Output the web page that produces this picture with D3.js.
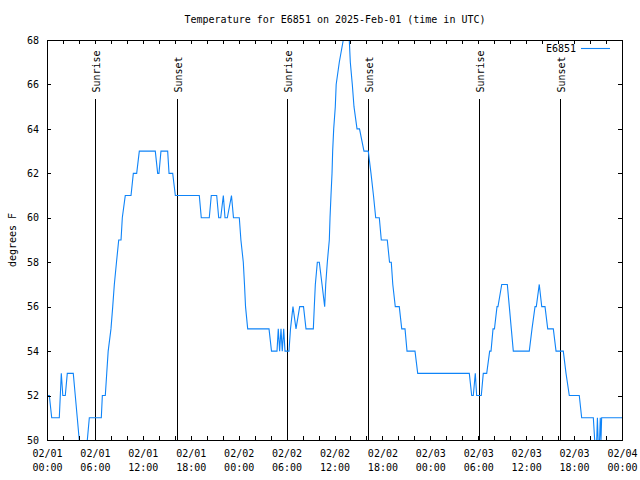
<!DOCTYPE html>
<html><head><meta charset="utf-8">
<script src="https://cdn.jsdelivr.net/npm/d3@7"></script>
<style>
html,body{margin:0;padding:0;background:#fff;}
svg{display:block;}
text{font-family:"DejaVu Sans Mono","Liberation Mono",monospace;font-size:10px;fill:#000;}
</style></head>
<body>
<svg id="chart" width="640" height="480"></svg>
<script>
// ---- data ----
const title = "Temperature for E6851 on 2025-Feb-01 (time in UTC)";
const seriesName = "E6851";
const yLabel = "degrees F";
// hours since 2025-02-01 00:00 UTC
const hrs = [0.00,0.29,0.59,1.54,1.79,1.98,2.29,2.54,3.29,3.54,3.79,4.04,4.29,4.80,5.05,5.30,6.80,6.93,7.30,7.48,7.66,8.01,8.23,8.43,8.70,8.98,9.27,9.43,9.80,10.52,10.81,11.23,11.56,13.56,13.86,14.02,14.27,15.11,15.28,15.74,16.07,19.07,19.32,20.32,20.57,21.25,21.50,21.75,22.08,22.29,22.58,23.10,23.35,24.08,24.28,24.58,24.73,24.86,25.13,27.80,28.11,28.80,28.96,29.13,29.30,29.46,29.64,29.80,30.30,30.49,30.80,31.18,31.64,32.12,32.43,33.35,33.47,33.60,33.85,34.10,34.44,34.77,34.90,35.10,35.35,35.44,35.56,35.69,35.77,35.90,36.10,36.21,36.60,37.10,37.32,37.69,37.85,37.98,38.23,38.44,38.82,39.13,39.69,40.23,40.57,40.88,41.16,41.61,41.86,42.61,42.89,43.11,43.30,43.61,44.11,44.42,44.83,45.08,46.08,46.42,52.88,53.18,53.38,53.63,53.80,54.38,54.63,55.06,55.43,55.60,55.85,56.03,56.35,56.47,56.94,57.64,57.89,58.14,58.39,60.39,60.73,61.11,61.27,61.64,61.95,62.36,62.70,63.40,63.74,64.65,64.99,65.40,66.65,66.95,68.41,68.75,68.92,69.10,69.28,69.37,69.45,72.00];
const temps = [52,52,51,51,53,52,52,53,53,52,51,50,49,49,50,51,51,52,52,53,54,55,56,57,58,59,59,60,61,61,62,62,63,63,62,62,63,63,62,62,61,61,60,60,61,61,60,60,61,60,60,61,60,60,59,58,57,56,55,55,54,54,55,54,55,54,55,54,54,55,56,55,56,56,55,55,56,57,58,58,57,56,57,58,59,60,61,62,63,64,65,66,67,68,69,69,68,67,66,65,64,64,63,63,62,61,60,60,59,59,58,58,57,56,56,55,55,54,54,53,53,52,52,53,52,52,53,53,54,54,55,55,56,56,57,57,56,55,54,54,55,56,56,57,56,56,55,55,54,54,53,52,52,51,51,49,51,49,51,50,51,51];
const sunEvents = ["2025-02-01T06:04Z","2025-02-01T16:13Z","2025-02-02T06:04Z","2025-02-02T16:14Z","2025-02-03T06:03Z","2025-02-03T16:14Z"];
const sunLabels = ["Sunrise","Sunset","Sunrise","Sunset","Sunrise","Sunset"];
const yTicks = [50,52,54,56,58,60,62,64,66,68];
const xStart = "2025-02-01T00:00Z", xEnd = "2025-02-04T00:00Z";

// ---- layout ----
const L = 47, R = 622, T = 40, B = 440;
const svg = d3.select("#chart");
const t0 = new Date(xStart);
const x = d3.scaleUtc().domain([t0, new Date(xEnd)]).range([L, R]);
const y = d3.scaleLinear().domain([50, 68]).range([B, T]);
const data = hrs.map((h, i) => ({t: new Date(t0.getTime() + h * 3600e3), v: temps[i]}));

// title
svg.append("text").attr("x", 335).attr("y", 23).attr("text-anchor", "middle").text(title);

// y label
svg.append("text").attr("transform", "translate(16,240) rotate(-90)").attr("text-anchor", "middle").text(yLabel);

// clip
svg.append("clipPath").attr("id", "clip").append("rect").attr("x", L).attr("y", T).attr("width", R - L).attr("height", B - T);

// sunrise/sunset
const sun = svg.append("g");
sunEvents.forEach((s, i) => {
  const xx = Math.round(x(new Date(s))) + 0.5;
  sun.append("line").attr("x1", xx).attr("x2", xx).attr("y1", 99).attr("y2", B).attr("stroke", "#000").attr("stroke-width", 1);
  sun.append("text").attr("transform", `translate(${xx + 4},92.5) rotate(-90)`).attr("text-anchor", "start").text(sunLabels[i]);
});

// data line
svg.append("path").datum(data).attr("clip-path", "url(#clip)")
  .attr("fill", "none").attr("stroke", "#0f84f8").attr("stroke-width", 1.1)
  .attr("d", d3.line().x(d => x(d.t)).y(d => y(d.v)));

// axes (ticks inward)
const gB = svg.append("g").attr("transform", `translate(0,${B})`)
  .call(d3.axisBottom(x).ticks(d3.utcHour.every(2)).tickSize(-4).tickSizeOuter(0).tickFormat(""));
const gT = svg.append("g").attr("transform", `translate(0,${T})`)
  .call(d3.axisTop(x).ticks(d3.utcHour.every(2)).tickSize(-4).tickSizeOuter(0).tickFormat(""));
const gL = svg.append("g").attr("transform", `translate(${L},0)`)
  .call(d3.axisLeft(y).tickValues(yTicks).tickSize(-4).tickSizeOuter(0).tickPadding(8).tickFormat(d3.format("d")));
const gR = svg.append("g").attr("transform", `translate(${R},0)`)
  .call(d3.axisRight(y).tickValues(yTicks).tickSize(-4).tickSizeOuter(0).tickFormat(""));
[gB, gT, gL, gR].forEach(g => {
  g.selectAll("path.domain").remove();
  g.selectAll("line").attr("stroke", "#000").attr("shape-rendering", "crispEdges");
  g.selectAll("text").attr("font-family", null).attr("font-size", null);
});
gL.selectAll("text").attr("fill", "#000");

// x labels (two lines)
const fmtD = d3.utcFormat("%m/%d"), fmtH = d3.utcFormat("%H:%M");
const gX = svg.append("g").attr("transform", `translate(0,${B})`)
  .call(d3.axisBottom(x).ticks(d3.utcHour.every(6)).tickSize(0).tickSizeOuter(0).tickFormat(fmtD));
gX.selectAll("path.domain").remove();
gX.selectAll("text").attr("font-family", null).attr("font-size", null).attr("fill", "#000")
  .attr("y", 17).attr("dy", null)
  .each(function(d){
    d3.select(this).append("tspan").attr("x", 0).attr("y", 31).text(fmtH(d));
  });

// frame
svg.append("rect").attr("x", L + 0.5).attr("y", T + 0.5).attr("width", R - L).attr("height", B - T)
  .attr("fill", "none").attr("stroke", "#000").attr("stroke-width", 1).attr("shape-rendering", "crispEdges");

// legend
svg.append("text").attr("x", 576).attr("y", 52).attr("text-anchor", "end").text(seriesName);
svg.append("line").attr("x1", 581).attr("x2", 610).attr("y1", 48.5).attr("y2", 48.5).attr("stroke", "#0f84f8").attr("stroke-width", 1.1);
</script>
</body></html>
